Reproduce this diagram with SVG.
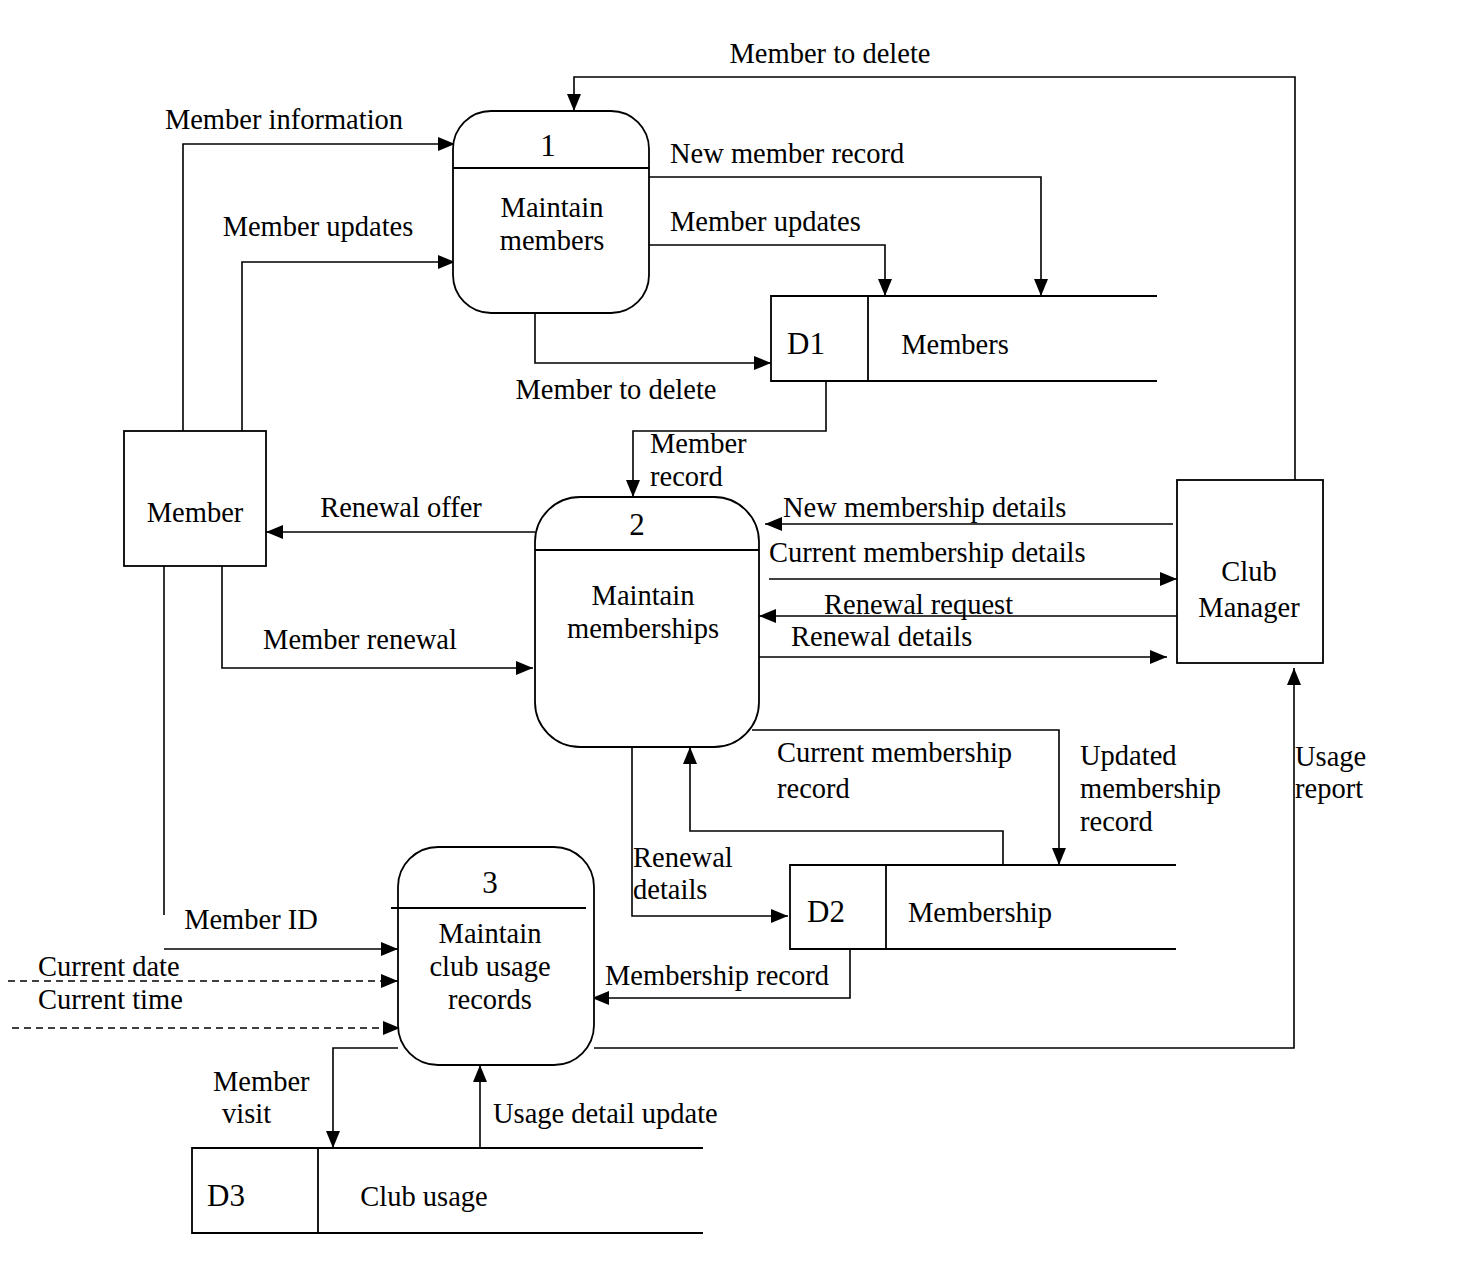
<svg xmlns="http://www.w3.org/2000/svg" width="1475" height="1285" viewBox="0 0 1475 1285">
<defs>
<marker id="arr" markerUnits="userSpaceOnUse" markerWidth="17" markerHeight="14" refX="17" refY="7" orient="auto">
<path d="M0,0 L17,7 L0,14 z" fill="#000"/>
</marker>
<style>
.s{fill:none;stroke:#000;stroke-width:1.8}
.n{fill:#fff;stroke:#000;stroke-width:1.8}
.c{fill:none;stroke:#000;stroke-width:1.6;marker-end:url(#arr)}
.d{fill:none;stroke:#000;stroke-width:1.4;stroke-dasharray:7,5;marker-end:url(#arr)}
.p{fill:none;stroke:#000;stroke-width:1.6}
text{font-size:28.5px;fill:#000}
.m{text-anchor:middle}
.big{font-size:31px}
</style>
</defs>
<rect width="1475" height="1285" fill="#fff"/>

<g id="connectors">
<path class="c" d="M1295,480 V77 H574 V111"/>
<path class="c" d="M183,431 V144 H455"/>
<path class="c" d="M242,431 V262 H455"/>
<path class="c" d="M649,177 H1041 V296"/>
<path class="c" d="M649,245 H885 V296"/>
<path class="c" d="M535,313 V363 H771"/>
<path class="c" d="M826,381 V431 H633 V497"/>
<path class="c" d="M535,532 H266"/>
<path class="c" d="M222,566 V668 H533"/>
<path class="p" d="M164,566 V915"/>
<path class="c" d="M164,949 H398"/>
<path class="d" d="M8,981 H398"/>
<path class="d" d="M12,1028 H400"/>
<path class="c" d="M1173,524 H765"/>
<path class="c" d="M769,579 H1177"/>
<path class="c" d="M1177,616 H759"/>
<path class="c" d="M759,657 H1167"/>
<path class="c" d="M752,730 H1059 V865"/>
<path class="c" d="M1003,865 V831 H690 V747"/>
<path class="c" d="M632,747 V916 H788"/>
<path class="c" d="M850,949 V998 H592"/>
<path class="c" d="M594,1048 H1294 V668"/>
<path class="c" d="M398,1048 H333 V1148"/>
<path class="c" d="M480,1148 V1065"/>
</g>

<g font-family="Liberation Serif, Times New Roman, DejaVu Serif, serif">
<g id="labels">
<text x="830" y="63" class="m">Member to delete</text>
<text x="284" y="129" class="m">Member information</text>
<text x="318" y="236" class="m">Member updates</text>
<text x="670" y="163">New member record</text>
<text x="670" y="231">Member updates</text>
<text x="616" y="399" class="m">Member to delete</text>
<text x="650" y="453">Member</text>
<text x="650" y="486">record</text>
<text x="401" y="517" class="m">Renewal offer</text>
<text x="360" y="649" class="m">Member renewal</text>
<text x="251" y="929" class="m">Member ID</text>
<text x="38" y="976">Current date</text>
<text x="38" y="1009">Current time</text>
<text x="783" y="517">New membership details</text>
<text x="769" y="562">Current membership details</text>
<text x="824" y="614">Renewal request</text>
<text x="791" y="646">Renewal details</text>
<text x="777" y="762">Current membership</text>
<text x="777" y="798">record</text>
<text x="1080" y="765">Updated</text>
<text x="1080" y="798">membership</text>
<text x="1080" y="831">record</text>
<text x="1295" y="766">Usage</text>
<text x="1295" y="798">report</text>
<text x="633" y="867">Renewal</text>
<text x="633" y="899">details</text>
<text x="605" y="985">Membership record</text>
<text x="213" y="1091">Member</text>
<text x="222" y="1123">visit</text>
<text x="493" y="1123">Usage detail update</text>
</g>

<g id="p1">
<rect class="n" x="453" y="111" width="196" height="202" rx="38"/>
<line class="s" x1="453" y1="168" x2="649" y2="168"/>
<text x="548" y="156" class="m big">1</text>
<text x="552" y="217" class="m">Maintain</text>
<text x="552" y="250" class="m">members</text>
</g>

<g id="p2">
<rect class="n" x="535" y="497" width="224" height="250" rx="45"/>
<line class="s" x1="535" y1="550" x2="759" y2="550"/>
<text x="637" y="535" class="m big">2</text>
<text x="643" y="605" class="m">Maintain</text>
<text x="643" y="638" class="m">memberships</text>
</g>

<g id="p3">
<rect class="n" x="398" y="847" width="196" height="218" rx="40"/>
<line class="s" x1="391" y1="908" x2="586" y2="908"/>
<text x="490" y="893" class="m big">3</text>
<text x="490" y="943" class="m">Maintain</text>
<text x="490" y="976" class="m">club usage</text>
<text x="490" y="1009" class="m">records</text>
</g>

<g id="member">
<rect class="n" x="124" y="431" width="142" height="135"/>
<text x="195" y="522" class="m">Member</text>
</g>

<g id="manager">
<rect class="n" x="1177" y="480" width="146" height="183"/>
<text x="1249" y="581" class="m">Club</text>
<text x="1249" y="617" class="m">Manager</text>
</g>

<g id="d1">
<path class="s" d="M1157,296 H771 V381 H1157 M868,296 V381"/>
<text x="806" y="354" class="m big">D1</text>
<text x="955" y="354" class="m">Members</text>
</g>

<g id="d2">
<path class="s" d="M1176,865 H790 V949 H1176 M886,865 V949"/>
<text x="826" y="922" class="m big">D2</text>
<text x="980" y="922" class="m">Membership</text>
</g>

<g id="d3">
<path class="s" d="M703,1148 H192 V1233 H703 M318,1148 V1233"/>
<text x="226" y="1206" class="m big">D3</text>
<text x="424" y="1206" class="m">Club usage</text>
</g>
</g>
</svg>
